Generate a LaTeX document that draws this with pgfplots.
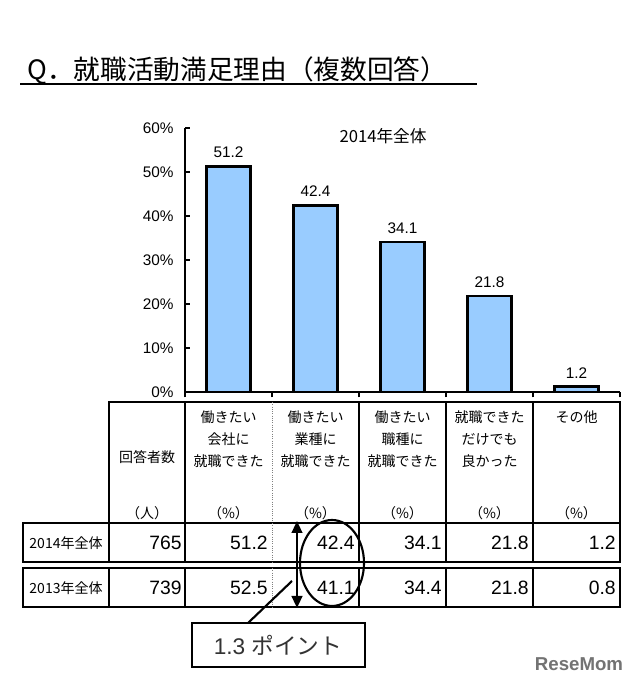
\documentclass[border=0pt]{standalone}
\usepackage{fontspec}
\setmainfont{Liberation Sans}
\newfontfamily\jp{Noto Sans CJK JP}
\usepackage{pgfplots}
\usepackage{pgfplotstable}
\pgfplotsset{compat=1.18}
\usetikzlibrary{arrows.meta}
\definecolor{barblue}{HTML}{99CCFF}

\pgfplotstableread{
x y
1 51.2
2 42.4
3 34.1
4 21.8
5 1.2
}\datatable

\begin{document}
\begin{tikzpicture}
\begin{scope}[x=0.75pt,y=-0.75pt,yshift=519pt]
\path[use as bounding box, fill=white] (0,0) rectangle (640,692);
% title
\node[anchor=west, inner sep=0pt, font=\jp\fontsize{20}{24}\selectfont] at (27,71) {Q．就職活動満足理由（複数回答）};
\draw[line width=1.5pt] (20,84.5)--(477,84.5);
% chart title
\node[font=\jp\fontsize{12.5}{15}\selectfont] at (383,136) {2014年全体};
\end{scope}

\begin{axis}[
  at={(138.75pt,225pt)}, anchor=south west,
  scale only axis, width=326.25pt, height=198pt,
  xmin=0.5, xmax=5.5, ymin=0, ymax=60,
  axis x line*=bottom, axis y line*=left,
  axis line style={line width=2pt, -},
  xtick={0.5,1.5,...,5.5}, xticklabels={},
  ytick={0,10,...,60},
  yticklabel={\pgfmathprintnumber{\tick}\%},
  yticklabel style={font=\fontsize{11.5}{13}\selectfont, xshift=-5pt},
  tick align=inside, major tick length=4pt,
  tick style={line width=1.5pt, black},
  /pgf/number format/assume math mode=true,
  ybar, bar width=33pt,
  nodes near coords,
  nodes near coords style={font=\fontsize{11.5}{13}\selectfont, anchor=center, yshift=10.5pt,
    /pgf/number format/.cd, fixed, precision=1, fixed zerofill},
  clip=false,
]
\addplot[fill=barblue, draw=black, line width=2pt] table[x=x,y=y]{\datatable};
\end{axis}

\begin{scope}[x=0.75pt,y=-0.75pt,yshift=519pt]
% header table
\draw[line width=1.8pt] (109,402) rectangle (620,523);
\foreach \xx in {185,359,446,533} \draw[line width=1.5pt] (\xx,402)--(\xx,523);
\draw[line width=0.7pt, densely dotted, gray] (272,402)--(272,523);
% rows
\foreach \ya/\yb in {523/562, 568/607} {
  \draw[line width=1.8pt] (23,\ya) rectangle (620,\yb);
  \foreach \xx in {109,185,359,446,533} \draw[line width=1.5pt] (\xx,\ya)--(\xx,\yb);
  \draw[line width=0.7pt, densely dotted, gray] (272,\ya)--(272,\yb);
}
% header text
\begin{scope}[every node/.style={align=center, font=\jp\fontsize{10.5}{16.5}\selectfont, text=black}]
\node at (147,457) {回答者数};
\node at (228.5,439) {働きたい\\会社に\\就職できた};
\node at (315.5,439) {働きたい\\業種に\\就職できた};
\node at (402.5,439) {働きたい\\職種に\\就職できた};
\node at (489.5,439) {就職できた\\だけでも\\良かった};
\node at (576.5,417) {その他};
\node at (147,513) {（人）};
\node at (228.5,513) {（\%）};
\node at (315.5,513) {（\%）};
\node at (402.5,513) {（\%）};
\node at (489.5,513) {（\%）};
\node at (576.5,513) {（\%）};
\end{scope}
% row labels
\node[font=\jp\fontsize{10.5}{12}\selectfont] at (66,543) {2014年全体};
\node[font=\jp\fontsize{10.5}{12}\selectfont] at (66,588) {2013年全体};
% numbers
\begin{scope}[every node/.style={anchor=east, font=\fontsize{14.5}{17}\selectfont, inner sep=0pt}]
\node at (182,543) {765};  \node at (268,543) {51.2}; \node at (355,543) {42.4};
\node at (442,543) {34.1}; \node at (529,543) {21.8}; \node at (616,543) {1.2};
\node at (182,588) {739};  \node at (268,588) {52.5}; \node at (355,588) {41.1};
\node at (442,588) {34.4}; \node at (529,588) {21.8}; \node at (616,588) {0.8};
\end{scope}
% annotation
\draw[line width=1.6pt] (332,563) ellipse [x radius=32, y radius=43];
\draw[line width=1.6pt, {Triangle[length=9pt,width=8pt]}-{Triangle[length=9pt,width=8pt]}] (297,521)--(297,608);
\draw[line width=1.6pt] (248,623)--(292,581);
\draw[line width=1.8pt, fill=white] (192,623) rectangle (365,667);
\node[font=\fontsize{17}{20}\selectfont, text=black!80] at (278,645) {1.3 {\jp ポイント}};
% watermark
\node[font=\bfseries\fontsize{14}{16}\selectfont, text=black!55] at (579,664) {ReseMom};
\end{scope}
\end{tikzpicture}
\end{document}
